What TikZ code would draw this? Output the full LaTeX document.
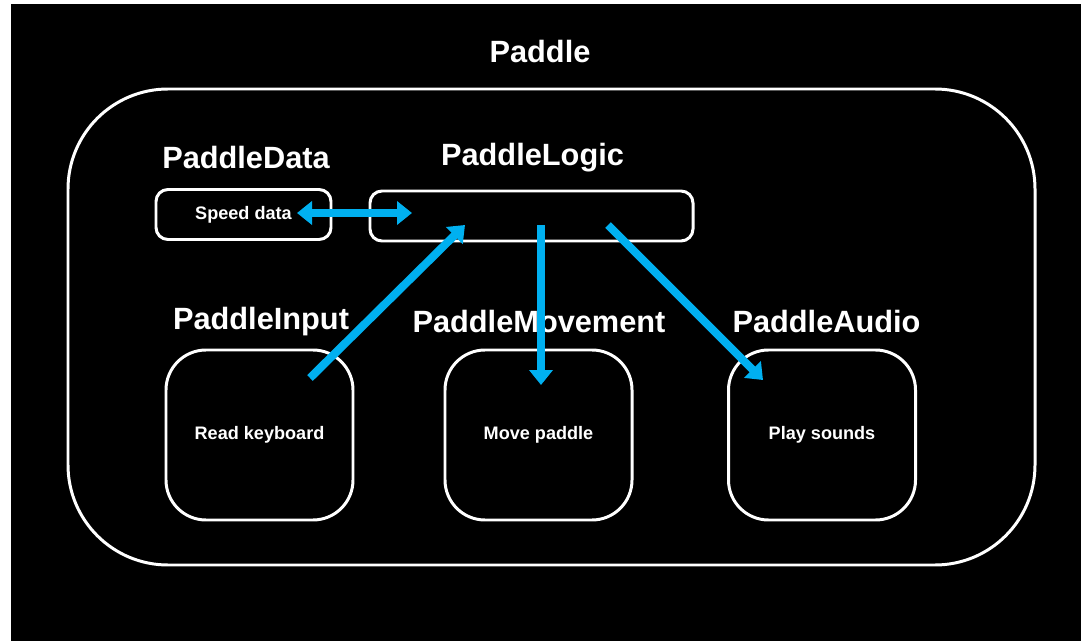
\documentclass[tikz,border=0pt]{standalone}
\usepackage{fontspec}
\setmainfont{Liberation Sans}
\usepackage{tikz}
\usetikzlibrary{arrows.meta}

\definecolor{flowblue}{HTML}{00B0F0}

\begin{document}
\begin{tikzpicture}[
		every node/.style={rectangle, draw=white, line width=1.7pt, text=white, font=\bfseries},
		box_small/.style={rounded corners=0.24cm, minimum height=1cm},
		box_big/.style={rounded corners=0.8cm, minimum width=3.74cm, minimum height=3.4cm, font=\bfseries\fontsize{10.3}{12}\selectfont},
		title/.style={draw=none, font=\bfseries\fontsize{17.5}{20}\selectfont},
		flow/.style={draw=flowblue, line width=4.6pt, -{Triangle[length=0.3cm, width=0.46cm]}}
	]
  \useasboundingbox (0cm, 0cm) rectangle (21.62cm, -12.82cm);
  \fill[white] (0cm, 0cm) rectangle (21.62cm, -12.82cm);
  \fill[black] (0.22cm, -0.08cm) rectangle (21.62cm, -12.82cm);

  \node (paddle) [rounded corners=2cm, minimum width=19.34cm, minimum height=9.52cm] at (11.03cm, -6.54cm) {};
  \node (paddle_label) [title] at (10.8cm, -1.04cm) {Paddle};

  \node (data) [box_small, minimum width=3.5cm, font=\bfseries\fontsize{10.3}{12}\selectfont] at (4.87cm, -4.29cm) {Speed data};
  \node (data_label) [title] at (4.92cm, -3.16cm) {PaddleData};
  \node (logic) [box_small, minimum width=6.46cm] at (10.63cm, -4.32cm) {};
  \node (logic_label) [title] at (10.65cm, -3.16cm) {PaddleLogic};

  \node (input) [box_big] at (5.19cm, -8.7cm) {Read keyboard};
  \node (input_label) [title] at (5.22cm, -6.43cm) {PaddleInput};
  \node (move) [box_big] at (10.77cm, -8.7cm) {Move paddle};
  \node (move_label) [title] at (10.78cm, -6.43cm) {PaddleMovement};
  \node (audio) [box_big] at (16.44cm, -8.7cm) {Play sounds};
  \node (audio_label) [title] at (16.53cm, -6.43cm) {PaddleAudio};

  \coordinate (data_end) at (5.94cm, -4.26cm);
  \coordinate (logic_end) at (8.24cm, -4.26cm);
  \coordinate (logic_in) at (9.3cm, -4.5cm);
  \coordinate (logic_mid) at (10.82cm, -4.5cm);
  \coordinate (logic_out) at (12.16cm, -4.5cm);
  \coordinate (input_end) at (6.2cm, -7.56cm);
  \coordinate (move_end) at (10.82cm, -7.7cm);
  \coordinate (audio_end) at (15.26cm, -7.6cm);

  \draw [flow, {Triangle[length=0.3cm, width=0.46cm]}-{Triangle[length=0.3cm, width=0.46cm]}] (data_end) -- (logic_end);
  \draw [flow] (input_end) -- (logic_in);
  \draw [flow] (logic_mid) -- (move_end);
  \draw [flow] (logic_out) -- (audio_end);
\end{tikzpicture}
\end{document}
